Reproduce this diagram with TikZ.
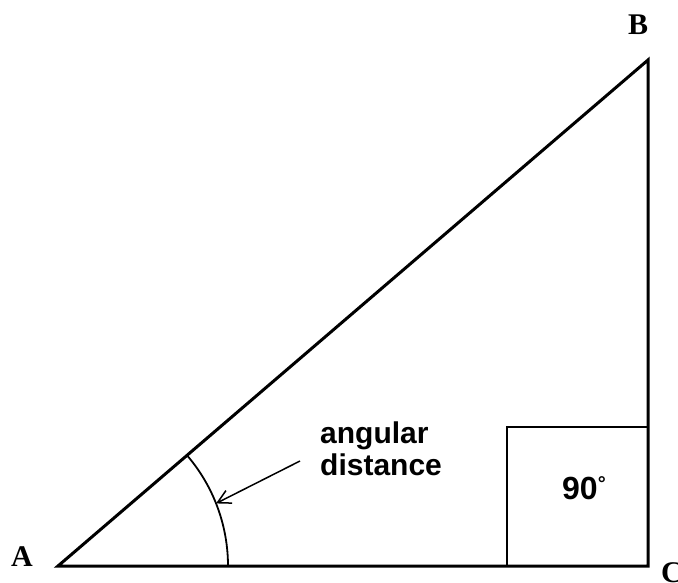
\documentclass[tikz,border=0pt]{standalone}
\usepackage{fontspec}
\setmainfont{Liberation Serif}
\setsansfont{Liberation Sans}
\usetikzlibrary{arrows.meta,calc}
\tikzset{
  tri/.style={line width=3pt, line join=miter, line cap=rect},
  thin/.style={line width=1.8pt},
  vlabel/.style={font=\fontsize{30}{30}\selectfont\bfseries, inner sep=0pt},
  sanslabel/.style={font=\fontsize{30}{32}\selectfont\sffamily\bfseries, inner sep=0pt, align=left},
  pointer/.style={line width=1.5pt, -{Straight Barb[length=13pt,width=14pt,line width=1.5pt]}}
}
\begin{document}
\begin{tikzpicture}[x=1pt,y=-1pt]
\useasboundingbox (0,0) rectangle (678,583);
\coordinate (A) at (58,566);
\coordinate (B) at (648,60);
\coordinate (C) at (648,566);
\coordinate (boxTL) at (507,427);
% triangle
\draw[tri] (A) -- (B) -- (C) -- cycle;
% right angle box
\draw[thin] (boxTL) rectangle (C);
\node[sanslabel, font=\fontsize{32}{32}\selectfont\sffamily\bfseries, anchor=base west] (ninety) at (562,499) {90\raisebox{9pt}{\fontsize{20}{20}\selectfont °}};
% angle arc
\coordinate (arcstart) at ($(A)+(170,0)$);
\draw[thin] (arcstart) arc[start angle=0, end angle=-40.6, radius=170];
% label and pointer
\node[sanslabel, anchor=base west] (lbl) at (320,475) {angular\\distance};
\coordinate (tail) at (300,461);
\coordinate (arcpt) at ($(A)+(-21.6:170)$);
\draw[pointer] (tail) -- (arcpt);
% vertex labels
\node[vlabel] (labA) at (22,557) {A};
\node[vlabel] (labB) at (638,25) {B};
\node[vlabel, anchor=west] (labC) at (661,573) {C};
\end{tikzpicture}
\end{document}
